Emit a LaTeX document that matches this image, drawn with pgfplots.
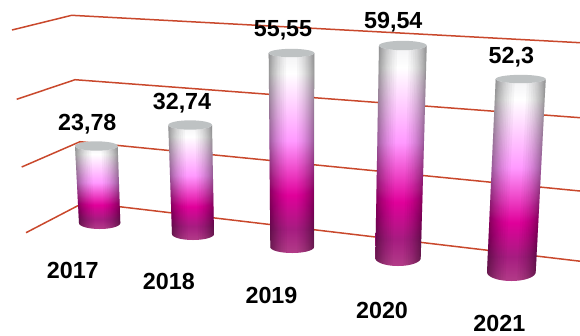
\documentclass[border=0pt]{standalone}
\usepackage{fontspec}
\setmainfont{Liberation Sans}
\usepackage{pgfplots}
\usepackage{pgfplotstable}
\pgfplotsset{compat=1.18}

\definecolor{gridred}{HTML}{C9482C}
\definecolor{capgrey}{HTML}{BEC2C3}
\definecolor{stA}{HTML}{B23C88}
\definecolor{stB}{HTML}{A61C80}
\definecolor{stC}{HTML}{E0009A}
\definecolor{stD}{HTML}{FF99FF}
\definecolor{stE}{HTML}{FFFFFF}
\definecolor{stF}{HTML}{F2F2F4}

% Body colour from the foot of a column to its head
\pgfdeclareverticalshading{columnbody}{100bp}{%
  color(0bp)=(stA); color(25bp)=(stA); color(31bp)=(stB); color(39.5bp)=(stC);
  color(53bp)=(stD); color(70bp)=(stE); color(75bp)=(stF); color(100bp)=(stF)}

% value, depth scale, foot level, foot edges and radius, head edges and radius
\pgfplotstableread{
value scale yb    xbl   xbr   bb  xtl   xtr   bt
23.78 3.238 223   79    120.3 6   75    117.7 4.7
32.74 3.329 234   172   214   6   168.3 212   4.7
55.55 3.492 247   270.3 314   6   268.7 314.3 4.2
59.54 3.569 258   375.3 420.7 8   379   426.7 4.7
52.3  3.690 272   487   535.7 9   495.7 545.7 4.2
}\columns

% Appends points of an elliptical arc to \ptlist
\newcommand\addarc[7]{% cx, half width, y, radius, start angle, end angle, steps
  \pgfmathsetmacro\arcstep{(#6-#5)/#7}%
  \foreach \i in {0,...,#7}{%
    \pgfmathsetmacro\th{#5+\i*\arcstep}%
    \pgfmathsetmacro\px{#1-#2*cos(\th)}%
    \pgfmathsetmacro\py{#3+#4*sin(\th)}%
    \xdef\ptlist{\ptlist (\px,\py)}%
  }%
}
\newcommand\getcol[2]{\pgfplotstablegetelem{#1}{#2}\of\columns\expandafter\let\csname c#2\endcsname\pgfplotsretval}

% Edge band of a column between two angles of its circumference
\newcommand\edgeband[2]{%
  \gdef\ptlist{}%
  \addarc{\ctc}{\cta}{\cyt}{\cbt}{#1}{#2}{5}%
  \addarc{\cbc}{\cba}{\cyb}{\cbb}{#2}{#1}{5}%
  \edef\temp{\noexpand\addplot[draw=none,fill=black,fill opacity=0.032,forget plot] coordinates {\ptlist};}%
  \temp
}

\newcommand\column[1]{%
  \getcol{#1}{value}\getcol{#1}{scale}\getcol{#1}{yb}\getcol{#1}{xbl}\getcol{#1}{xbr}%
  \getcol{#1}{bb}\getcol{#1}{xtl}\getcol{#1}{xtr}\getcol{#1}{bt}%
  \pgfmathsetmacro\cyt{\cyb-\cvalue*\cscale}%
  \pgfmathsetmacro\ctc{(\cxtl+\cxtr)/2}\pgfmathsetmacro\cta{(\cxtr-\cxtl)/2}%
  \pgfmathsetmacro\cbc{(\cxbl+\cxbr)/2}\pgfmathsetmacro\cba{(\cxbr-\cxbl)/2}%
  % body
  \gdef\ptlist{}%
  \xdef\ptlist{(\cxtl,\cyt) (\cxtr,\cyt)}%
  \addarc{\cbc}{\cba}{\cyb}{\cbb}{180}{0}{24}%
  \edef\temp{\noexpand\addplot[draw=none,shading=columnbody,forget plot] coordinates {\ptlist};}%
  \temp
  % darkening towards both edges
  \foreach \t in {12,17,22,26,30,34,38,42,46,50,54,59,64,70,76}{%
    \pgfmathsetmacro\tr{180-\t}%
    \edgeband{0}{\t}%
    \edgeband{\tr}{180}%
  }%
  % head
  \gdef\ptlist{}%
  \addarc{\ctc}{\cta}{\cyt}{\cbt}{0}{360}{36}%
  \edef\temp{\noexpand\addplot[draw=none,fill=capgrey,forget plot] coordinates {\ptlist};}%
  \temp
}

\begin{document}
\begin{tikzpicture}
\begin{axis}[
  scale only axis, width=580pt, height=335pt,
  xmin=0, xmax=580, ymin=0, ymax=335, y dir=reverse,
  hide axis, no markers,
]
  % corners of the drawing area
  \addplot[draw=none,forget plot] coordinates {(0,0) (580,335)};

  % value levels on the side and back walls
  \addplot[gridred,line width=1.5pt] coordinates {(12,30) (71.7,15.3) (580,42.7)};
  \addplot[gridred,line width=1.5pt] coordinates {(16.7,99.3) (75,79.7) (580,117.7)};
  \addplot[gridred,line width=1.5pt] coordinates {(21.7,167) (80,141.7) (580,191)};
  \addplot[gridred,line width=1.5pt] coordinates {(26,232.7) (84,202.5) (580,261.2)};

  \column{0}
  \column{1}
  \column{2}
  \column{3}
  \column{4}

  % values above the columns
  \addplot[draw=none,nodes near coords,point meta=explicit symbolic,
    every node near coord/.style={anchor=center,inner sep=0pt,text=black,
      font=\fontsize{23.3}{23.3}\selectfont\bfseries}]
    table[meta=label] {
    x     y     label
    87.3  124   23,78
    182   103   32,74
    283   30    55,55
    393.3 21.7  59,54
    511.3 57.3  52,3
  };
  % years below the columns
  \addplot[draw=none,nodes near coords,point meta=explicit symbolic,
    every node near coord/.style={anchor=center,inner sep=0pt,text=black,
      font=\fontsize{23.3}{23.3}\selectfont\bfseries}]
    table[meta=label] {
    x     y     label
    72.8  270   2017
    168.8 281.7 2018
    271.5 295   2019
    382   310   2020
    499.3 323.5 2021
  };
\end{axis}
\end{tikzpicture}
\end{document}
